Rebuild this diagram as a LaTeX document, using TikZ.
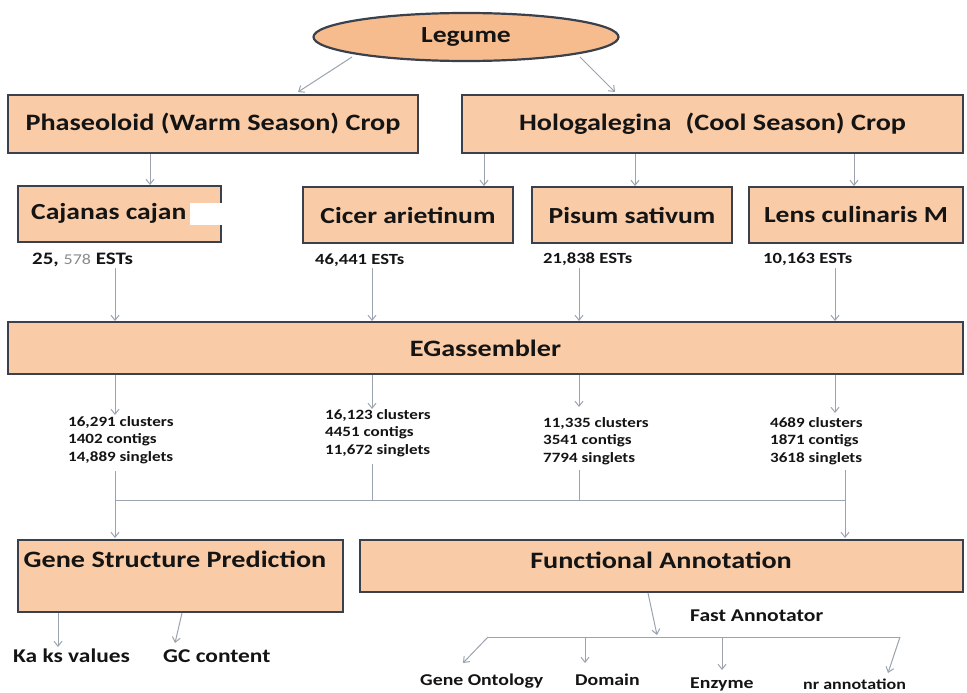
\documentclass[tikz,border=0pt]{standalone}
\usepackage{fontspec}
\usepackage{graphicx}
\setmainfont{Carlito}
\usetikzlibrary{shapes.geometric,arrows.meta}
\definecolor{peach}{HTML}{F9CBA6}
\definecolor{legfill}{HTML}{F7BC8E}
\definecolor{bord}{HTML}{3A414D}
\definecolor{arrg}{HTML}{9BA4AE}
\definecolor{txt}{HTML}{141414}
\definecolor{numg}{HTML}{8A8A8A}
\newcommand\sx[1]{\scalebox{1.2}[1]{#1}}
\tikzset{
  box/.style={rectangle,draw=bord,fill=peach,line width=2.4pt,inner sep=0pt},
  big/.style={font=\fontsize{23.5}{27}\selectfont\bfseries,text=txt,inner sep=0pt},
  spc/.style={font=\fontsize{23}{26}\selectfont\bfseries},
  est/.style={font=\fontsize{15.5}{17}\selectfont\bfseries,text=txt,inner sep=0pt,anchor=west},
  stat/.style={font=\fontsize{14.2}{17.5}\selectfont\bfseries,text=txt,inner sep=0pt,anchor=north west,align=left},
  leaf/.style={font=\fontsize{19.5}{22}\selectfont\bfseries,text=txt,inner sep=0pt,anchor=west},
  fleaf/.style={font=\fontsize{16.5}{20}\selectfont\bfseries,text=txt,inner sep=0pt,anchor=west},
  arr/.style={draw=arrg,line width=1pt,-{Straight Barb[length=5pt,width=8pt]}},
  ln/.style={draw=arrg,line width=1pt}
}
\begin{document}
\begin{tikzpicture}[x=1pt,y=-1pt]
\useasboundingbox (0,0) rectangle (967,693);
\clip (0,0) rectangle (967,693);
\fill[white] (0,0) rectangle (967,693);

% top
\node[ellipse,draw=bord,fill=legfill,line width=2.2pt,minimum width=305pt,minimum height=48pt,inner sep=0pt,big,font=\fontsize{23}{26}\selectfont\bfseries] (leg) at (466,37) {\sx{Legume}};

\node[box,big,minimum width=410pt,minimum height=58pt] (phas) at (213,124) {\sx{Phaseoloid (Warm Season) Crop}};
\node[box,big,minimum width=501pt,minimum height=58pt] (holo) at (712.5,124) {\sx{Hologalegina\enspace(Cool Season) Crop}};

% species
\node[box,minimum width=203pt,minimum height=56pt] (caj) at (119.5,214) {};
\node[big,spc,anchor=west] (cajt) at (31,213) {\sx{Cajanas cajan}};
\fill[white] (190,203) rectangle (223.5,225);
\node[box,big,spc,minimum width=210pt,minimum height=56pt] (cic) at (408,215) {\sx{Cicer arietinum}};
\node[box,big,spc,minimum width=200pt,minimum height=56pt] (pis) at (632,215) {\sx{Pisum sativum}};
\node[box,big,spc,minimum width=214pt,minimum height=56pt] (len) at (856,215) {\sx{Lens culinaris M}};

% ESTs
\node[est,font=\fontsize{17.5}{19}\selectfont\bfseries] (e1) at (32,260) {\sx{25, {\fontsize{15}{16}\selectfont\mdseries\color{numg}578} ESTs}};
\node[est] (e2) at (315,260) {\sx{46,441 ESTs}};
\node[est] (e3) at (543,259) {\sx{21,838 ESTs}};
\node[est] (e4) at (763,259) {\sx{10,163 ESTs}};

% EGassembler
\node[box,big,minimum width=955pt,minimum height=52pt] (eg) at (485.5,348) {\sx{EGassembler}};

% stats
\node[stat] (s1) at (68,416) {\sx{16,291 clusters}\\\sx{1402 contigs}\\\sx{14,889 singlets}};
\node[stat] (s2) at (325,409) {\sx{16,123 clusters}\\\sx{4451 contigs}\\\sx{11,672 singlets}};
\node[stat] (s3) at (543,417) {\sx{11,335 clusters}\\\sx{3541 contigs}\\\sx{7794 singlets}};
\node[stat] (s4) at (770,417) {\sx{4689 clusters}\\\sx{1871 contigs}\\\sx{3618 singlets}};

% bottom boxes
\node[box,minimum width=325pt,minimum height=72pt] (gsp) at (180.5,576) {};
\node[big] (gspt) at (175,559) {\sx{Gene Structure Prediction}};
\node[box,minimum width=603pt,minimum height=52pt] (fa) at (661.5,566) {};
\node[big] (fat) at (661,560) {\sx{Functional Annotation}};

\node[leaf] (ka) at (13,656) {\sx{Ka ks values}};
\node[leaf] (gc) at (163,656) {\sx{GC content}};

\node[fleaf,font=\fontsize{18}{20}\selectfont\bfseries] (fast) at (690,616) {\sx{Fast Annotator}};
\node[fleaf] (go) at (420,681) {\sx{Gene Ontology}};
\node[fleaf] (dom) at (575,680) {\sx{Domain}};
\node[fleaf] (enz) at (690,684) {\sx{Enzyme}};
\node[fleaf,font=\fontsize{15}{18}\selectfont\bfseries] (nr) at (803,684) {\sx{nr annotation}};

% coordinates
\coordinate (l1) at (352,57);   \coordinate (l1e) at (298,92);
\coordinate (l2) at (580,57);   \coordinate (l2e) at (615,92);
\coordinate (p1) at (150,154);  \coordinate (p1e) at (150,185);
\coordinate (h1) at (484,154);  \coordinate (h1e) at (484,186);
\coordinate (h2) at (635,154);  \coordinate (h2e) at (635,186);
\coordinate (h3) at (854,154);  \coordinate (h3e) at (854,186);
\coordinate (a1) at (115,268);  \coordinate (a1e) at (115,321);
\coordinate (a2) at (372,268);  \coordinate (a2e) at (372,321);
\coordinate (a3) at (579,268);  \coordinate (a3e) at (579,321);
\coordinate (a4) at (835,268);  \coordinate (a4e) at (835,321);
\coordinate (b1) at (115,375);  \coordinate (b1e) at (115,415);
\coordinate (b2) at (372,375);  \coordinate (b2e) at (372,409);
\coordinate (b3) at (579,375);  \coordinate (b3e) at (579,407);
\coordinate (b4) at (835,375);  \coordinate (b4e) at (835,413);
\coordinate (c1) at (115,471);  \coordinate (j1) at (115,500);
\coordinate (c2) at (372,464);  \coordinate (j2) at (372,500);
\coordinate (c3) at (579,470);  \coordinate (j3) at (579,500);
\coordinate (c4) at (845,470);  \coordinate (j4) at (845,500);
\coordinate (d1) at (115,538);  \coordinate (d4) at (845,538);
\coordinate (g1) at (58,613);   \coordinate (g1e) at (58,647);
\coordinate (g2) at (182,613);  \coordinate (g2e) at (175,643);
\coordinate (f0) at (648,593);  \coordinate (f0e) at (657,635);
\coordinate (k1) at (488,637);  \coordinate (k1e) at (463,663);
\coordinate (k2) at (585,637);  \coordinate (k2e) at (585,663);
\coordinate (k3) at (722,637);  \coordinate (k3e) at (722,670);
\coordinate (k4) at (900,637);  \coordinate (k4e) at (888,673);

\draw[arr] (l1) -- (l1e);
\draw[arr] (l2) -- (l2e);
\draw[arr] (p1) -- (p1e);
\draw[arr] (h1) -- (h1e);
\draw[arr] (h2) -- (h2e);
\draw[arr] (h3) -- (h3e);
\draw[arr] (a1) -- (a1e);
\draw[arr] (a2) -- (a2e);
\draw[arr] (a3) -- (a3e);
\draw[arr] (a4) -- (a4e);
\draw[arr] (b1) -- (b1e);
\draw[arr] (b2) -- (b2e);
\draw[arr] (b3) -- (b3e);
\draw[arr] (b4) -- (b4e);
\draw[ln] (c1) -- (j1);
\draw[ln] (c2) -- (j2);
\draw[ln] (c3) -- (j3);
\draw[ln] (c4) -- (j4);
\draw[ln] (j1) -- (j4);
\draw[arr] (j1) -- (d1);
\draw[arr] (j4) -- (d4);
\draw[arr] (g1) -- (g1e);
\draw[arr] (g2) -- (g2e);
\draw[arr] (f0) -- (f0e);
\draw[ln] (k1) -- (k4);
\draw[arr] (k1) -- (k1e);
\draw[arr] (k2) -- (k2e);
\draw[arr] (k3) -- (k3e);
\draw[arr] (k4) -- (k4e);
\end{tikzpicture}
\end{document}
